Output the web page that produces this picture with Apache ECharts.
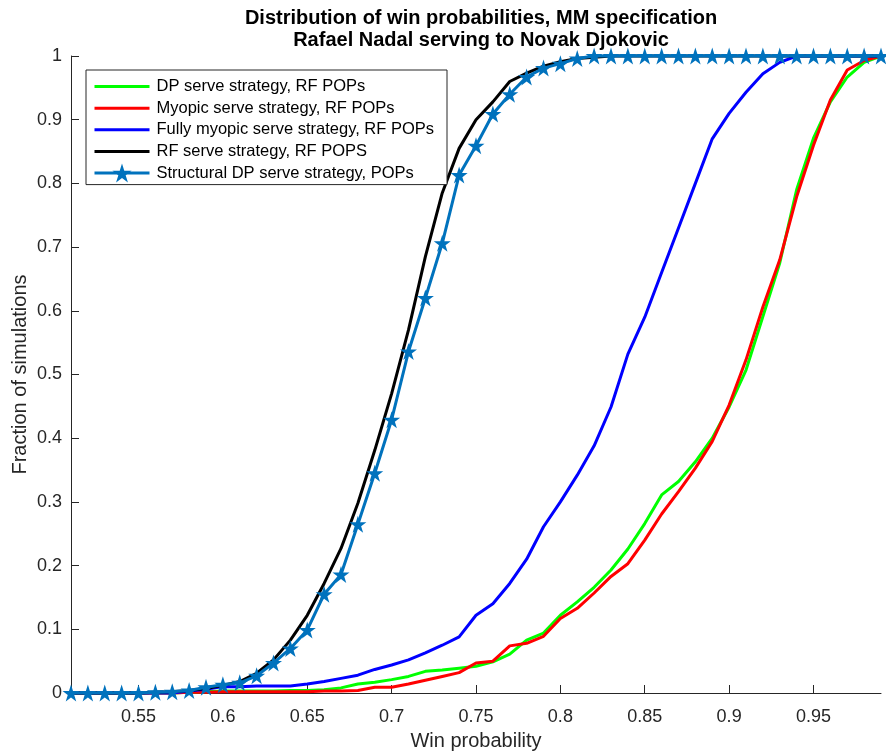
<!DOCTYPE html>
<html>
<head>
<meta charset="utf-8">
<title>Distribution of win probabilities</title>
<script src="https://cdn.jsdelivr.net/npm/echarts@6/dist/echarts.min.js"></script>
<style>
html, body { margin: 0; padding: 0; background: #fff; }
#chart { width: 886px; height: 756px; }
</style>
</head>
<body>
<div id="chart"></div>
<script>
// win probability grid (x)
const winProb = [0.51, 0.52, 0.53, 0.54, 0.55, 0.56, 0.57, 0.58, 0.59, 0.60,
    0.61, 0.62, 0.63, 0.64, 0.65, 0.66, 0.67, 0.68, 0.69, 0.70,
    0.71, 0.72, 0.73, 0.74, 0.75, 0.76, 0.77, 0.78, 0.79, 0.80,
    0.81, 0.82, 0.83, 0.84, 0.85, 0.86, 0.87, 0.88, 0.89, 0.90,
    0.91, 0.92, 0.93, 0.94, 0.95, 0.96, 0.97, 0.98, 0.99];

const dpRF = [0, 0, 0, 0, 0, 0, 0, 0.001, 0.002, 0.003,
    0.003, 0.003, 0.003, 0.004, 0.004, 0.005, 0.008, 0.014, 0.017, 0.021,
    0.026, 0.034, 0.036, 0.039, 0.042, 0.049, 0.061, 0.083, 0.094, 0.122,
    0.143, 0.166, 0.193, 0.226, 0.266, 0.311, 0.332, 0.363, 0.400, 0.449,
    0.507, 0.591, 0.675, 0.790, 0.871, 0.928, 0.967, 0.990, 1.0];

const myopicRF = [0, 0, 0, 0, 0, 0, 0, 0.001, 0.001, 0.002,
    0.002, 0.002, 0.002, 0.002, 0.002, 0.003, 0.003, 0.004, 0.009, 0.009,
    0.014, 0.020, 0.026, 0.032, 0.047, 0.050, 0.074, 0.078, 0.089, 0.117,
    0.133, 0.157, 0.183, 0.203, 0.240, 0.281, 0.316, 0.353, 0.395, 0.452,
    0.523, 0.606, 0.680, 0.779, 0.860, 0.931, 0.978, 0.993, 1.0];

const fullyMyopicRF = [0, 0, 0, 0, 0, 0, 0, 0.003, 0.006, 0.010,
    0.010, 0.011, 0.011, 0.011, 0.014, 0.018, 0.023, 0.028, 0.037, 0.044,
    0.052, 0.063, 0.075, 0.088, 0.122, 0.140, 0.172, 0.210, 0.261, 0.300,
    0.342, 0.388, 0.449, 0.532, 0.590, 0.660, 0.730, 0.800, 0.870, 0.910,
    0.943, 0.972, 0.990, 1.0, 1.0, 1.0, 1.0, 1.0, 1.0];

const rfRF = [0, 0, 0, 0, 0, 0.001, 0.002, 0.004, 0.007, 0.012,
    0.018, 0.031, 0.052, 0.083, 0.122, 0.172, 0.227, 0.298, 0.381, 0.470,
    0.570, 0.685, 0.785, 0.855, 0.900, 0.928, 0.960, 0.973, 0.984, 0.991,
    0.996, 0.998, 1.0, 1.0, 1.0, 1.0, 1.0, 1.0, 1.0, 1.0,
    1.0, 1.0, 1.0, 1.0, 1.0, 1.0, 1.0, 1.0, 1.0];

const structDP = [0, 0, 0, 0, 0, 0.001, 0.002, 0.004, 0.009, 0.013,
    0.016, 0.027, 0.047, 0.070, 0.099, 0.155, 0.186, 0.265, 0.345, 0.429,
    0.536, 0.620, 0.706, 0.813, 0.859, 0.909, 0.940, 0.967, 0.981, 0.988,
    0.996, 1.0, 1.0, 1.0, 1.0, 1.0, 1.0, 1.0, 1.0, 1.0,
    1.0, 1.0, 1.0, 1.0, 1.0, 1.0, 1.0, 1.0, 1.0];

const xTicks = [0.55, 0.6, 0.65, 0.7, 0.75, 0.8, 0.85, 0.9, 0.95];

const seriesNames = [
    'DP serve strategy, RF POPs',
    'Myopic serve strategy, RF POPs',
    'Fully myopic serve strategy, RF POPs',
    'RF serve strategy, RF POPS',
    'Structural DP serve strategy, POPs',
];

const FONT = 'Liberation Sans, Arial, Helvetica, sans-serif';
const AXIS_COLOR = '#262626';
const STAR = 'path://M50 0L61.23 34.55L97.55 34.55L68.17 55.9L79.39 90.45L50 69.1L20.61 90.45L31.83 55.9L2.45 34.55L38.77 34.55Z';

const pairs = ys => winProb.map((x, i) => [x, ys[i]]);

const lineSeries = (name, ys, color) => ({
    name,
    type: 'line',
    data: pairs(ys),
    symbol: 'none',
    clip: false,
    color,
    lineStyle: { color, width: 3 },
});

// plain lines get no marker in the legend, only the star series keeps one
const legendData = seriesNames.map((name, i) => (i < 4
    ? { name, itemStyle: { opacity: 0 } }
    : { name }));

const chart = echarts.init(document.getElementById('chart'), null, { renderer: 'canvas' });

chart.setOption({
    animation: false,
    backgroundColor: '#fff',
    textStyle: { fontFamily: FONT },
    title: {
        text: 'Distribution of win probabilities, MM specification\nRafael Nadal serving to Novak Djokovic',
        left: 476,
        top: 2,
        textAlign: 'center',
        textStyle: {
            fontFamily: FONT,
            fontSize: 20,
            fontWeight: 'bold',
            color: '#000',
            lineHeight: 22,
        },
    },
    grid: {
        left: 71,
        right: 5,
        top: 56,
        bottom: 63,
        containLabel: false,
    },
    legend: {
        data: legendData,
        orient: 'vertical',
        left: 86,
        top: 70,
        padding: [7, 13, 2, 7],
        itemWidth: 55,
        itemHeight: 24,
        itemGap: 2.4,
        borderColor: AXIS_COLOR,
        borderWidth: 1,
        backgroundColor: '#fff',
        lineStyle: { width: 3 },
        textStyle: {
            fontFamily: FONT,
            fontSize: 16.5,
            color: '#000',
            padding: [0, 0, 0, 2],
        },
    },
    xAxis: {
        type: 'value',
        min: 0.51,
        max: 0.99,
        name: 'Win probability',
        nameLocation: 'middle',
        nameGap: 38,
        nameTextStyle: { fontFamily: FONT, fontSize: 20, color: AXIS_COLOR },
        axisLine: { lineStyle: { color: AXIS_COLOR, width: 1 } },
        axisTick: {
            inside: true,
            length: 8,
            customValues: xTicks,
            lineStyle: { color: AXIS_COLOR },
        },
        axisLabel: {
            customValues: xTicks,
            fontFamily: FONT,
            fontSize: 18,
            color: AXIS_COLOR,
            margin: 15,
        },
        splitLine: { show: false },
    },
    yAxis: {
        type: 'value',
        min: 0,
        max: 1,
        interval: 0.1,
        name: 'Fraction of simulations',
        nameLocation: 'middle',
        nameGap: 41,
        nameMoveOverlap: false,
        nameTextStyle: { fontFamily: FONT, fontSize: 20, color: AXIS_COLOR },
        axisLine: { show: true, lineStyle: { color: AXIS_COLOR, width: 1 } },
        axisTick: { show: true, inside: true, length: 8, lineStyle: { color: AXIS_COLOR } },
        axisLabel: {
            fontFamily: FONT,
            fontSize: 18,
            color: AXIS_COLOR,
            margin: 9,
        },
        splitLine: { show: false },
    },
    series: [
        lineSeries(seriesNames[0], dpRF, '#00ff00'),
        lineSeries(seriesNames[1], myopicRF, '#ff0000'),
        lineSeries(seriesNames[2], fullyMyopicRF, '#0000ff'),
        lineSeries(seriesNames[3], rfRF, '#000000'),
        {
            name: seriesNames[4],
            type: 'line',
            data: pairs(structDP),
            symbol: STAR,
            symbolSize: 17,
            showAllSymbol: true,
            clip: false,
            color: '#0072bd',
            lineStyle: { color: '#0072bd', width: 3 },
            itemStyle: { color: '#0072bd', borderWidth: 0 },
        },
    ],
});
</script>
</body>
</html>
